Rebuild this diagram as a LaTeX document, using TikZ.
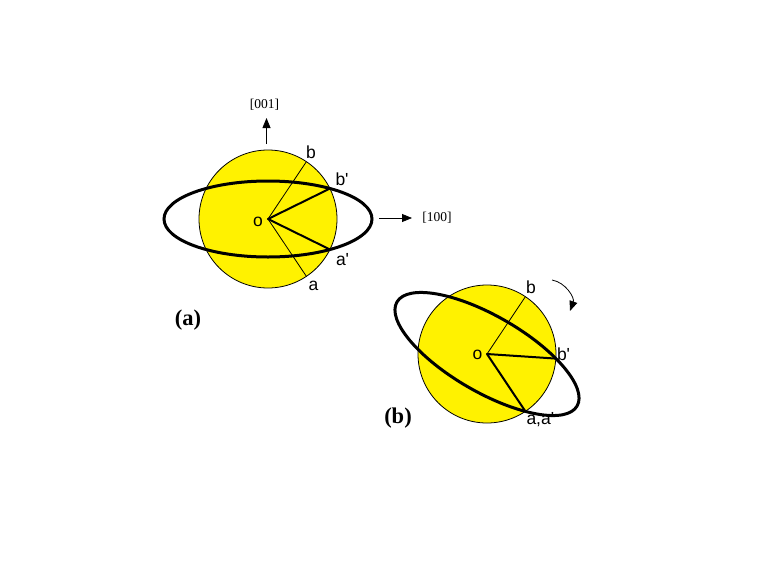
\documentclass[tikz,border=0pt]{standalone}
\usepackage{fontspec}
\setmainfont{Liberation Sans}
\newfontfamily\seriffont{Liberation Serif}
\usetikzlibrary{arrows.meta}
\begin{document}
\begin{tikzpicture}[x=1pt,y=-1pt,inner sep=0pt,outer sep=0pt,
>={Triangle[length=10pt,width=8pt]},
disc/.style={draw,fill=yellow,line width=0.8pt},
ring/.style={line width=3pt},
spoke/.style={line width=2pt,line join=round},
fine/.style={line width=0.8pt},
lbl/.style={font=\fontsize{17.5}{20}\selectfont,anchor=base west},
dirlbl/.style={font=\seriffont\fontsize{13.5}{15}\selectfont},
tag/.style={font=\seriffont\bfseries\fontsize{22.5}{26}\selectfont}]
\useasboundingbox (0,0) rectangle (768,576);
% (a)
\coordinate (oA) at (268,219);
\coordinate (bA) at ([shift={(-56.2:69)}]oA);
\coordinate (bpA) at ([shift={(-26.2:69)}]oA);
\coordinate (apA) at ([shift={(26.2:69)}]oA);
\coordinate (aA) at ([shift={(56.2:69)}]oA);
\draw[disc] (oA) circle[radius=69pt];
\draw[fine] (oA) -- (bA) (oA) -- (aA);
\draw[ring] (oA) ellipse[x radius=104pt,y radius=38pt];
\draw[spoke] (bpA) -- (oA) -- (apA);
\draw (253,226.5) node[lbl] (labOA) {o};
\draw (306,158.5) node[lbl] (labBA) {b};
\draw (335.5,185) node[lbl] (labBpA) {b\textquotesingle};
\draw (336,265) node[lbl] (labApA) {a\textquotesingle};
\draw (308.5,290) node[lbl] (labAA) {a};
\coordinate (upA0) at (266.5,144);
\coordinate (upA1) at (266.5,118);
\draw[fine,->] (upA0) -- (upA1);
\draw (264.5,104.5) node[dirlbl] (dirZ) {[001]};
\coordinate (rtA0) at (379,218);
\coordinate (rtA1) at (412,218);
\draw[fine,->] (rtA0) -- (rtA1);
\draw (437,217.5) node[dirlbl] (dirX) {[100]};
\draw (188,320) node[tag] (tagA) {(a)};
% (b)
\coordinate (oB) at (487,354);
\coordinate (bB) at ([shift={(-56.2:69)}]oB);
\coordinate (bpB) at ([shift={(3.8:69)}]oB);
\coordinate (aB) at ([shift={(56.2:69)}]oB);
\draw[disc] (oB) circle[radius=69pt];
\draw[fine] (oB) -- (bB);
\draw[ring,rotate around={-30:(oB)}] (oB) ellipse[x radius=104pt,y radius=38pt];
\draw[spoke] (bpB) -- (oB) -- (aB);
\draw (472.5,359) node[lbl] (labOB) {o};
\draw (526,293) node[lbl] (labBB) {b};
\draw (557,360.5) node[lbl] (labBpB) {b\textquotesingle};
\draw (526.5,424) node[lbl] (labAB) {a,a\textquotesingle};
\coordinate (turn0) at (552,280);
\coordinate (turn1) at (570,311);
\draw[fine,->] (turn0) to[bend left=50] (turn1);
\draw (398,418) node[tag] (tagB) {(b)};
\end{tikzpicture}
\end{document}
